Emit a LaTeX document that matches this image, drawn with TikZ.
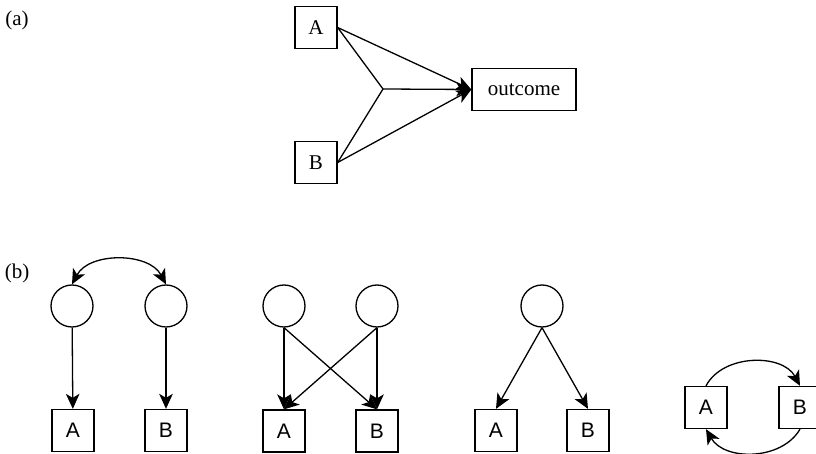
\documentclass[tikz,border=0pt]{standalone}
\usepackage{fontspec}
\setmainfont{Liberation Serif}
\newfontfamily\boxfont{Liberation Sans}
\usetikzlibrary{arrows.meta}
\tikzset{
  sbox/.style={draw, line width=0.65pt, minimum size=21pt, inner sep=0pt, font=\fontsize{10.5}{12}\selectfont},
  obox/.style={sbox, minimum width=52pt},
  lbox/.style={draw, line width=0.65pt, minimum size=21pt, inner sep=0pt, font=\boxfont\fontsize{10.5}{12}\selectfont},
  latent/.style={draw, circle, line width=0.65pt, minimum size=21pt, inner sep=0pt},
  tag/.style={font=\fontsize{10.5}{12}\selectfont},
  link/.style={line width=0.65pt},
  arrow/.style={link, ->},
  twoway/.style={link, <->}
}

\begin{document}
\begin{tikzpicture}[x=0.5pt, y=-0.5pt, >={Stealth[length=7.5pt, width=6.8pt, inset=2pt]}]
  \useasboundingbox (0,0) rectangle (816,454);

  % (a) joint effect of A and B
  \node[tag] (la) at (17,20) {(a)};
  \node[sbox] (a) at (316,27.5) {A};
  \node[sbox] (b) at (316,162.5) {B};
  \node[obox] (out) at (524,89.5) {outcome};
  \coordinate (j) at (383,89);
  \draw[link] (a.east) -- (j);
  \draw[link] (b.east) -- (j);
  \draw[arrow] (a.east) -- (out.west);
  \draw[arrow] (b.east) -- (out.west);
  \draw[arrow] (j) -- (out.west);

  % (b) four ways A and B can be related
  \node[tag] (lb) at (17,273) {(b)};

  \node[latent] (c11) at (72,306) {};
  \node[latent] (c12) at (166,306) {};
  \node[lbox] (a1) at (73,430.5) {A};
  \node[lbox] (b1) at (166,430.5) {B};
  \draw[twoway] (c11.north) to[bend left=62] (c12.north);
  \draw[arrow] (c11) -- (a1);
  \draw[arrow] (c12) -- (b1);

  \node[latent] (c21) at (284,306) {};
  \node[latent] (c22) at (377,306) {};
  \node[lbox] (a2) at (284,431) {A};
  \node[lbox] (b2) at (377,431) {B};
  \draw[arrow] (c21.south) -- (a2.north);
  \draw[arrow] (c21.south) -- (b2.north);
  \draw[arrow] (c22.south) -- (a2.north);
  \draw[arrow] (c22.south) -- (b2.north);

  \node[latent] (c3) at (542,306) {};
  \node[lbox] (a3) at (496,430.5) {A};
  \node[lbox] (b3) at (588,430.5) {B};
  \draw[arrow] (c3.south) -- (a3.north);
  \draw[arrow] (c3.south) -- (b3.north);

  \node[lbox] (a4) at (706,407.5) {A};
  \node[lbox] (b4) at (800,407.5) {B};
  \draw[arrow] (a4.north) to[bend left=62] (b4.north);
  \draw[arrow] (b4.south) to[bend left=60] (a4.south);
\end{tikzpicture}
\end{document}
